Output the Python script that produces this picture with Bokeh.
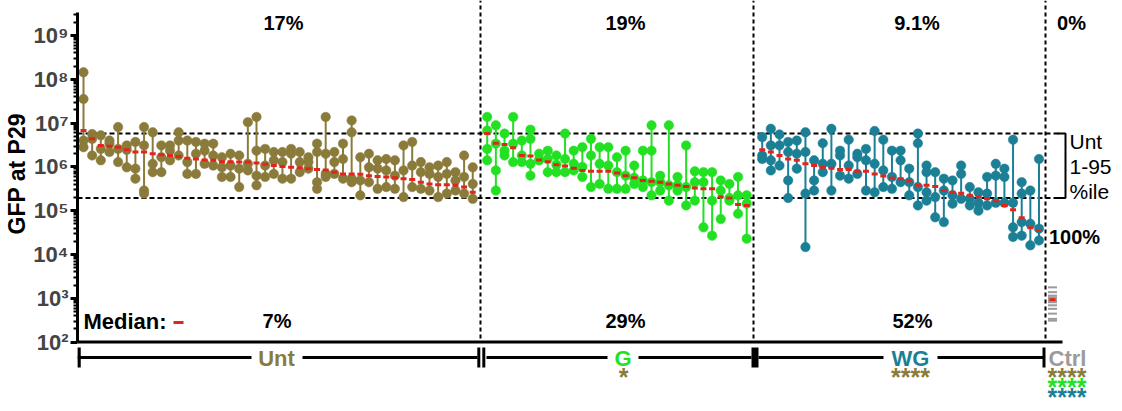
import numpy as np
from bokeh.plotting import figure
from bokeh.models import Range1d, FixedTicker, Title
from bokeh.core.properties import value
from bokeh.embed import file_html
from bokeh.resources import INLINE

# ---------------- data (log10 of GFP at P29) ----------------
groups = ["Unt", "G", "WG", "Ctrl"]

unt_log10 = [
    [8.16, 7.55, 6.60, 6.45], [6.75, 6.64, 6.26], [6.72, 6.41, 6.15], [6.60, 6.53, 6.34],
    [6.91, 6.41, 6.11], [6.49, 6.39, 5.99], [6.57, 5.96, 5.73], [6.91, 6.49, 5.46, 5.39],
    [6.79, 6.07, 5.88], [6.49, 6.22, 5.88], [6.49, 6.37, 6.15], [6.79, 6.60, 6.26],
    [6.60, 6.11, 5.84], [6.57, 6.30, 5.84], [6.53, 6.37, 6.07], [6.53, 6.26, 6.03],
    [6.22, 5.99, 5.77], [6.30, 6.03, 5.77], [6.26, 5.96, 5.54], [7.02, 6.07, 5.92],
    [7.14, 6.37, 5.80, 5.58], [6.41, 6.03, 5.77], [6.34, 6.15, 5.84], [6.34, 6.11, 5.73],
    [6.41, 6.30, 5.73], [6.34, 6.11, 5.88], [6.22, 6.11, 5.96], [6.53, 6.34, 5.65, 5.50],
    [7.14, 6.30, 5.84, 5.77], [6.34, 6.11, 5.84], [6.53, 6.18, 5.73], [7.06, 6.79, 5.73, 5.65],
    [6.22, 5.69, 5.35], [6.30, 5.99, 5.65], [6.15, 5.96, 5.50], [6.18, 5.92, 5.54],
    [6.15, 5.80, 5.50], [6.49, 5.92, 5.31], [6.57, 6.03, 5.54], [6.11, 5.88, 5.50],
    [5.99, 5.84, 5.46], [6.03, 5.77, 5.31], [6.11, 5.84, 5.39], [5.88, 5.69, 5.46],
    [6.26, 5.77, 5.39], [5.99, 5.61, 5.27],
]
unt_median_log10 = [
    6.83, 6.64, 6.49, 6.47, 6.45, 6.39, 6.34, 6.34, 6.30, 6.28, 6.26, 6.24, 6.20, 6.18,
    6.16, 6.15, 6.12, 6.12, 6.11, 6.11, 6.09, 6.06, 6.03, 6.01, 5.99, 5.98, 5.96, 5.94,
    5.93, 5.88, 5.84, 5.84, 5.83, 5.80, 5.78, 5.77, 5.75, 5.73, 5.71, 5.65, 5.61, 5.59,
    5.59, 5.58, 5.54, 5.42,
]

g_log10 = [
    [7.14, 6.83, 6.41, 6.15], [6.95, 6.53, 5.92, 5.46], [6.76, 6.37, 6.26], [7.14, 6.53, 6.11],
    [6.60, 6.26, 6.11], [6.85, 6.64, 6.07, 5.80], [6.30, 6.16, 6.15], [6.37, 6.18, 5.88],
    [6.26, 6.05, 5.88], [6.76, 6.18, 5.88], [6.37, 6.07, 5.92], [6.45, 6.00, 5.77],
    [6.64, 6.26, 5.54], [6.45, 6.07, 5.61], [6.45, 6.03, 5.50], [6.22, 5.88, 5.50],
    [6.37, 5.80, 5.50], [6.03, 5.75, 5.61], [6.37, 5.69, 5.54], [6.95, 6.37, 5.65, 5.35],
    [5.80, 5.65, 5.46], [6.95, 5.58, 5.23], [5.77, 5.58, 5.46], [6.49, 5.54, 5.12],
    [5.90, 5.65, 5.23], [5.88, 5.65, 4.62], [5.88, 5.23, 4.43], [5.69, 5.46, 4.81],
    [5.61, 5.29, 5.23], [5.77, 5.35, 4.93], [5.35, 5.16, 4.36],
]
g_median_log10 = [
    6.76, 6.54, 6.51, 6.44, 6.26, 6.25, 6.16, 6.12, 6.05, 6.02, 5.97, 5.92, 5.90, 5.90,
    5.90, 5.86, 5.80, 5.75, 5.69, 5.67, 5.65, 5.61, 5.58, 5.55, 5.52, 5.50, 5.50, 5.32,
    5.29, 5.14, 5.12,
]

wg_log10 = [
    [6.68, 6.26, 6.18], [6.87, 6.49, 6.15, 5.92], [6.74, 6.49, 6.03], [6.57, 6.34, 5.69, 5.29],
    [6.60, 6.30, 5.96], [6.79, 6.34, 5.39, 4.17], [6.15, 5.69, 5.46], [6.54, 6.07, 5.88],
    [6.87, 6.07, 5.46], [6.37, 6.26, 5.80], [6.62, 6.03, 5.73], [6.30, 6.22, 5.84],
    [6.41, 6.15, 5.46], [6.82, 6.07, 5.42], [6.62, 5.92, 5.54], [6.37, 5.77, 5.50],
    [6.37, 6.15, 5.65], [5.96, 5.65, 5.35], [6.76, 6.54, 5.54, 5.12], [6.03, 5.88, 5.42, 5.23],
    [5.88, 5.31, 4.85], [5.73, 5.46, 4.74], [5.69, 5.35, 5.16], [6.03, 5.84, 5.27],
    [5.54, 5.27, 5.12], [5.42, 5.18, 5.00], [5.77, 5.39, 5.12], [6.07, 5.80, 5.18],
    [5.96, 5.77, 5.18], [6.62, 5.18, 4.62, 4.40], [5.65, 5.39, 4.74, 4.43], [5.46, 4.70, 4.21],
    [6.18, 4.59, 4.32],
]
wg_median_log10 = [
    6.39, 6.34, 6.26, 6.18, 6.15, 6.07, 6.03, 5.99, 5.97, 5.94, 5.94, 5.90, 5.90, 5.84,
    5.79, 5.74, 5.73, 5.68, 5.58, 5.58, 5.55, 5.46, 5.42, 5.40, 5.35, 5.32, 5.27, 5.23,
    5.12, 5.02, 4.84, 4.61, 4.55,
]

ctrl_log10 = [3.25, 3.14, 3.06, 3.02, 2.98, 2.94, 2.91, 2.84, 2.76, 2.65, 2.53, 2.49]
ctrl_median_log10 = 2.97

unt_p1 = 1.95e5     # Unt 1st percentile
unt_p95 = 5.8e6     # Unt 95th percentile

pct_above = ["17%", "19%", "9.1%", "0%"]
pct_below = ["7%", "29%", "52%", "100%"]

ytick_exponents = [2, 3, 4, 5, 6, 7, 8, 9]
ytick_labels = ["10²", "10³", "10⁴", "10⁵", "10⁶", "10⁷", "10⁸", "10⁹"]

star_text = {"G": ["*"], "WG": ["****"], "Ctrl": ["****", "****", "****"]}
star_vs = {"G": ["Unt"], "WG": ["Unt"], "Ctrl": ["Unt", "G", "WG"]}

# ---------------- styling / layout ----------------
FONT = value("Liberation Sans")
COL = {"Unt": "#8B7B3B", "G": "#22E022", "WG": "#1B7F95", "Ctrl": "#9B9B9B"}
RED = "#E3241D"
W, H = 1120, 410
LEFT = 77
DEC = 43.8         # pixels per decade
top_log = 9 + 35 / DEC
bot_log = 9 - (H - 35) / DEC

X_START = {"Unt": 83.0, "G": 486.7, "WG": 761.7, "Ctrl": 1052.0}
STEP = 8.65
DIVIDERS = [480, 753, 1045]
GROUP_CX = {"Unt": 276, "G": 622.5, "WG": 910, "Ctrl": 1067}


def ypage(Y):
    """pixel row -> value on the log axis (used only to place annotations)"""
    return 10 ** (9 - (Y - 35.0) / DEC)


p = figure(width=W, height=H, x_range=Range1d(LEFT, W),
           y_range=Range1d(10 ** bot_log, 10 ** top_log), y_axis_type="log",
           output_backend="svg", toolbar_location=None, x_axis_location=None,
           min_border_left=LEFT, min_border_right=0, min_border_top=0, min_border_bottom=0)
p.background_fill_color = "white"
p.border_fill_color = "white"
p.outline_line_color = None
p.grid.visible = False

ax = p.yaxis[0]
major = [10.0 ** e for e in ytick_exponents]
minor = [k * 10.0 ** e for e in range(2, 10) for k in range(2, 10) if k * 10.0 ** e < 3.4e9]
ax.ticker = FixedTicker(ticks=major, minor_ticks=minor)
ax.major_label_overrides = {10.0 ** e: lab for e, lab in zip(ytick_exponents, ytick_labels)}
ax.bounds = (1e2, 10 ** 9.53)
ax.axis_line_width = 3
ax.major_tick_line_width = 3
ax.minor_tick_line_width = 2
ax.major_tick_in = 0
ax.minor_tick_in = 0
ax.major_tick_out = 7
ax.minor_tick_out = 4
ax.major_label_text_font = "Liberation Sans"
ax.major_label_text_font_style = "bold"
ax.major_label_text_font_size = "22px"
ax.major_label_standoff = 2

# y-axis title, anchored from the bottom so it sits where the reference has it
p.add_layout(Title(text="GFP at P29", align="left", offset=176, standoff=2,
                   text_font="Liberation Sans", text_font_style="bold",
                   text_font_size="23px", text_color="black"), "left")

# x axis line
p.segment(x0=[LEFT], y0=[1e2], x1=[1062], y1=[1e2], line_color="black", line_width=3)

# group dividers and Unt percentile band
p.segment(x0=DIVIDERS, y0=[ypage(338)] * 3, x1=DIVIDERS, y1=[10 ** top_log] * 3,
          line_color="black", line_width=2, line_dash="4 3")
p.segment(x0=[LEFT, LEFT], y0=[unt_p95, unt_p1], x1=[1058, 1058], y1=[unt_p95, unt_p1],
          line_color="black", line_width=2, line_dash="5 3")
p.line(x=[1057, 1065, 1065, 1057], y=[unt_p95, unt_p95, unt_p1, unt_p1],
       line_color="black", line_width=2)
for txt, Y in zip(["Unt", "1-95", "%ile"], [140.5, 166.5, 190.5]):
    p.text(x=[1069], y=[ypage(Y)], text=[txt], text_font=FONT, text_font_size="21px",
           text_align="left", text_baseline="middle", text_color="black")

series = {"Unt": (unt_log10, unt_median_log10), "G": (g_log10, g_median_log10),
          "WG": (wg_log10, wg_median_log10)}
med_x, med_y = [], []
for g, (reps, meds) in series.items():
    xs = [X_START[g] + STEP * i for i in range(len(reps))]
    lo = [10 ** min(r) for r in reps]
    hi = [10 ** max(r) for r in reps]
    p.segment(x0=xs, y0=lo, x1=xs, y1=hi, line_color=COL[g], line_width=2)
    dx, dy = [], []
    for x, r in zip(xs, reps):
        for v in r:
            dx.append(x)
            dy.append(10 ** v)
    p.scatter(x=dx, y=dy, marker="circle", size=9.5, fill_color=COL[g], line_color=COL[g],
              line_width=0.5)
    med_x += xs
    med_y += [10 ** m for m in meds]

# Ctrl
p.scatter(x=[X_START["Ctrl"]] * len(ctrl_log10), y=[10 ** v for v in ctrl_log10],
          marker="dash", size=9, line_color=COL["Ctrl"], line_width=2)
med_x.append(X_START["Ctrl"])
med_y.append(10 ** ctrl_median_log10)

p.scatter(x=med_x, y=med_y, marker="dash", size=6, line_color=RED, line_width=3)

# percentages
top_x = [283, 625, 916.5, 1071]
bot_x = [276.5, 625, 912, 1074]
bot_Y = [320.5, 320.5, 320.5, 236.5]
p.text(x=top_x, y=[ypage(22.5)] * 4, text=pct_above, text_font=FONT, text_font_size="20px",
       text_font_style="bold", text_align="center", text_baseline="middle", text_color="black")
p.text(x=bot_x, y=[ypage(Y) for Y in bot_Y], text=pct_below, text_font=FONT,
       text_font_size="20px", text_font_style="bold", text_align="center",
       text_baseline="middle", text_color="black")

# median legend
p.text(x=[83], y=[ypage(320.5)], text=["Median:"], text_font=FONT, text_font_size="22px",
       text_font_style="bold", text_align="left", text_baseline="middle", text_color="black")
p.scatter(x=[178], y=[ypage(322)], marker="dash", size=10, line_color=RED, line_width=3)

# ---------------- group bracket strip below the axis ----------------
seg_x0 = [77, 302, 486, 638, 758, 937]
seg_x1 = [251, 477, 607, 751, 883, 1043]
p.segment(x0=seg_x0, y0=[ypage(357)] * 6, x1=seg_x1, y1=[ypage(357)] * 6,
          line_color="black", line_width=3)
bar_x = [78.5, 478.3, 483.3, 754.5, 1043.5]
bar_w = [3.5, 3, 3, 7, 3]
p.segment(x0=bar_x, y0=[ypage(347)] * 5, x1=bar_x, y1=[ypage(367)] * 5,
          line_color="black", line_width=bar_w)

for g in groups:
    p.text(x=[GROUP_CX[g]], y=[ypage(357.5)], text=[g], text_font=FONT, text_font_size="22px",
           text_font_style="bold", text_align="center", text_baseline="middle",
           text_color=COL[g])

# significance stars (rows anchored by the bottom of their text box)
star_cx = {"G": 623, "WG": 910, "Ctrl": 1066.5}
row_bottom = [390, 400, 410]
for g in ["G", "WG", "Ctrl"]:
    for k, (txt, vs) in enumerate(zip(star_text[g], star_vs[g])):
        p.text(x=[star_cx[g]], y=[ypage(row_bottom[k])], text=[txt], text_font=FONT,
               text_font_size="25px", text_font_style="bold", text_align="center",
               text_baseline="bottom", text_color=COL[vs])

open("out.html", "w").write(file_html(p, INLINE))
